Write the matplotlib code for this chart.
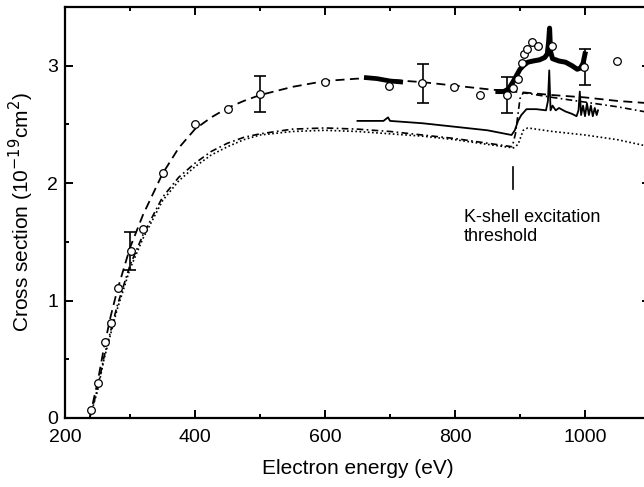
import matplotlib.pyplot as plt
from matplotlib.ticker import MultipleLocator

plt.rcParams['font.family'] = ['Liberation Sans', 'DejaVu Sans']

# measured cross sections (open circles)
exp_E = [240, 250, 261, 271, 281, 301, 320, 350, 400, 451, 500, 600, 698, 749,
         798, 838, 880, 889, 897, 903, 906, 911, 918, 928, 949, 998, 1049]
exp_sig = [0.07, 0.30, 0.65, 0.81, 1.11, 1.42, 1.61, 2.09, 2.50, 2.63, 2.76, 2.86, 2.83, 2.85,
           2.82, 2.75, 2.75, 2.81, 2.89, 3.02, 3.10, 3.14, 3.20, 3.17, 3.17, 2.99, 3.04]

# points carrying error bars
err_E = [300, 500, 750, 880, 1000]
err_sig = [1.42, 2.76, 2.85, 2.75, 2.99]
err_dy = [0.16, 0.15, 0.165, 0.15, 0.155]

# upper dashed curve
thA_E = [238, 245, 250, 260, 270, 280, 300, 320, 350, 375, 400, 425, 450, 475, 500, 550, 600,
         650, 700, 750, 800, 850, 890, 950, 1000, 1050, 1100]
thA_sig = [0.0, 0.18, 0.30, 0.60, 0.86, 1.08, 1.45, 1.73, 2.08, 2.30, 2.46, 2.56, 2.64, 2.70, 2.75, 2.82, 2.87,
           2.89, 2.88, 2.86, 2.83, 2.80, 2.78, 2.75, 2.73, 2.70, 2.68]

# lower dashed curve (steps up at threshold)
thB_E = [238, 250, 260, 280, 300, 320, 350, 375, 400, 425, 450, 475, 500, 550, 600, 650, 700,
         750, 800, 850, 888, 893, 900, 905, 950, 1000, 1050, 1100]
thB_sig = [0.0, 0.25, 0.52, 0.95, 1.30, 1.56, 1.88, 2.05, 2.17, 2.27, 2.34, 2.39, 2.42, 2.46, 2.47, 2.46, 2.44,
           2.41, 2.38, 2.34, 2.31, 2.42, 2.72, 2.77, 2.73, 2.69, 2.65, 2.60]

# dotted curve
thC_E = [238, 250, 260, 280, 300, 320, 350, 375, 400, 425, 450, 475, 500, 550, 600, 650, 700,
         750, 800, 850, 890, 897, 905, 912, 950, 1000, 1050, 1100]
thC_sig = [0.0, 0.23, 0.50, 0.92, 1.27, 1.53, 1.85, 2.02, 2.14, 2.24, 2.31, 2.37, 2.41, 2.44, 2.45, 2.44, 2.42,
           2.40, 2.37, 2.33, 2.30, 2.33, 2.45, 2.47, 2.44, 2.41, 2.37, 2.31]

# thin solid curve
thD_E = [650, 690, 697, 700, 750, 800, 850, 887, 892, 897, 902, 910, 925, 940, 943, 945,
         947, 950, 955, 960, 970, 980, 987, 990, 992, 994, 997, 1000, 1003, 1006, 1009,
         1012, 1015, 1018, 1020]
thD_sig = [2.53, 2.53, 2.56, 2.53, 2.51, 2.48, 2.45, 2.41, 2.45, 2.53, 2.58, 2.63, 2.63, 2.62, 2.70, 2.96,
           2.62, 2.66, 2.62, 2.64, 2.61, 2.59, 2.57, 2.62, 2.78, 2.58, 2.66, 2.57, 2.68, 2.58, 2.66,
           2.57, 2.64, 2.58, 2.62]

# thick measured traces
meas1_E = [660, 680, 700, 720]
meas1_sig = [2.90, 2.89, 2.87, 2.86]
meas2_E = [866, 875, 882, 889, 895, 900, 905, 912, 920, 930, 938, 942, 944, 945.5,
           947, 950, 955, 960, 970, 980, 988, 993, 997, 1000]
meas2_sig = [2.78, 2.78, 2.80, 2.86, 2.92, 2.97, 3.00, 3.03, 3.04, 3.05, 3.07, 3.10, 3.20, 3.32,
             3.12, 3.06, 3.05, 3.04, 3.03, 3.00, 2.97, 2.98, 3.02, 3.10]

threshold_E = 889
threshold_y = [1.95, 2.14]

fig = plt.figure(figsize=(6.44, 4.87), dpi=100)
ax = fig.add_axes([65/644, 69/487, 585/644, 411/487])

ax.plot(thA_E, thA_sig, color='k', lw=1.3, ls=(0, (5, 3)))
ax.plot(thB_E, thB_sig, color='k', lw=1.2, ls=(0, (4, 2, 1, 2)))
ax.plot(thC_E, thC_sig, color='k', lw=1.2, ls=(0, (1, 1.5)))
ax.plot(thD_E, thD_sig, color='k', lw=1.3)
ax.plot(meas1_E, meas1_sig, color='k', lw=3.4, solid_capstyle='butt')
ax.plot(meas2_E, meas2_sig, color='k', lw=3.6)

ax.errorbar(err_E, err_sig, yerr=err_dy, fmt='none', ecolor='k', elinewidth=1.2,
            capsize=4, capthick=1.2, zorder=4)
ax.plot(exp_E, exp_sig, 'o', ms=5.5, mfc='white', mec='k', mew=0.9, zorder=5)

ax.plot([threshold_E, threshold_E], threshold_y, color='k', lw=1.2)
ax.text(814, 1.78, 'K-shell excitation\nthreshold', fontsize=13, ha='left', va='top',
        linespacing=1.15)

ax.set_xlim(200, 1100)
ax.set_ylim(0, 3.5)
ax.xaxis.set_major_locator(MultipleLocator(200))
ax.xaxis.set_minor_locator(MultipleLocator(100))
ax.yaxis.set_major_locator(MultipleLocator(1))
ax.yaxis.set_minor_locator(MultipleLocator(0.5))
ax.tick_params(which='both', direction='in', top=True, right=True, width=1.4, labelsize=14)
ax.tick_params(which='major', length=5.5)
ax.tick_params(which='minor', length=3)
ax.tick_params(axis='x', which='major', pad=8)
ax.tick_params(axis='y', which='major', pad=5)
for s in ax.spines.values():
    s.set_linewidth(1.6)

ax.set_xlabel('Electron energy (eV)', fontsize=15, labelpad=9)
ax.set_ylabel('Cross section (10$^{-19}$cm$^2$)', fontsize=15, labelpad=8)

fig.savefig('out.png', dpi=100)
